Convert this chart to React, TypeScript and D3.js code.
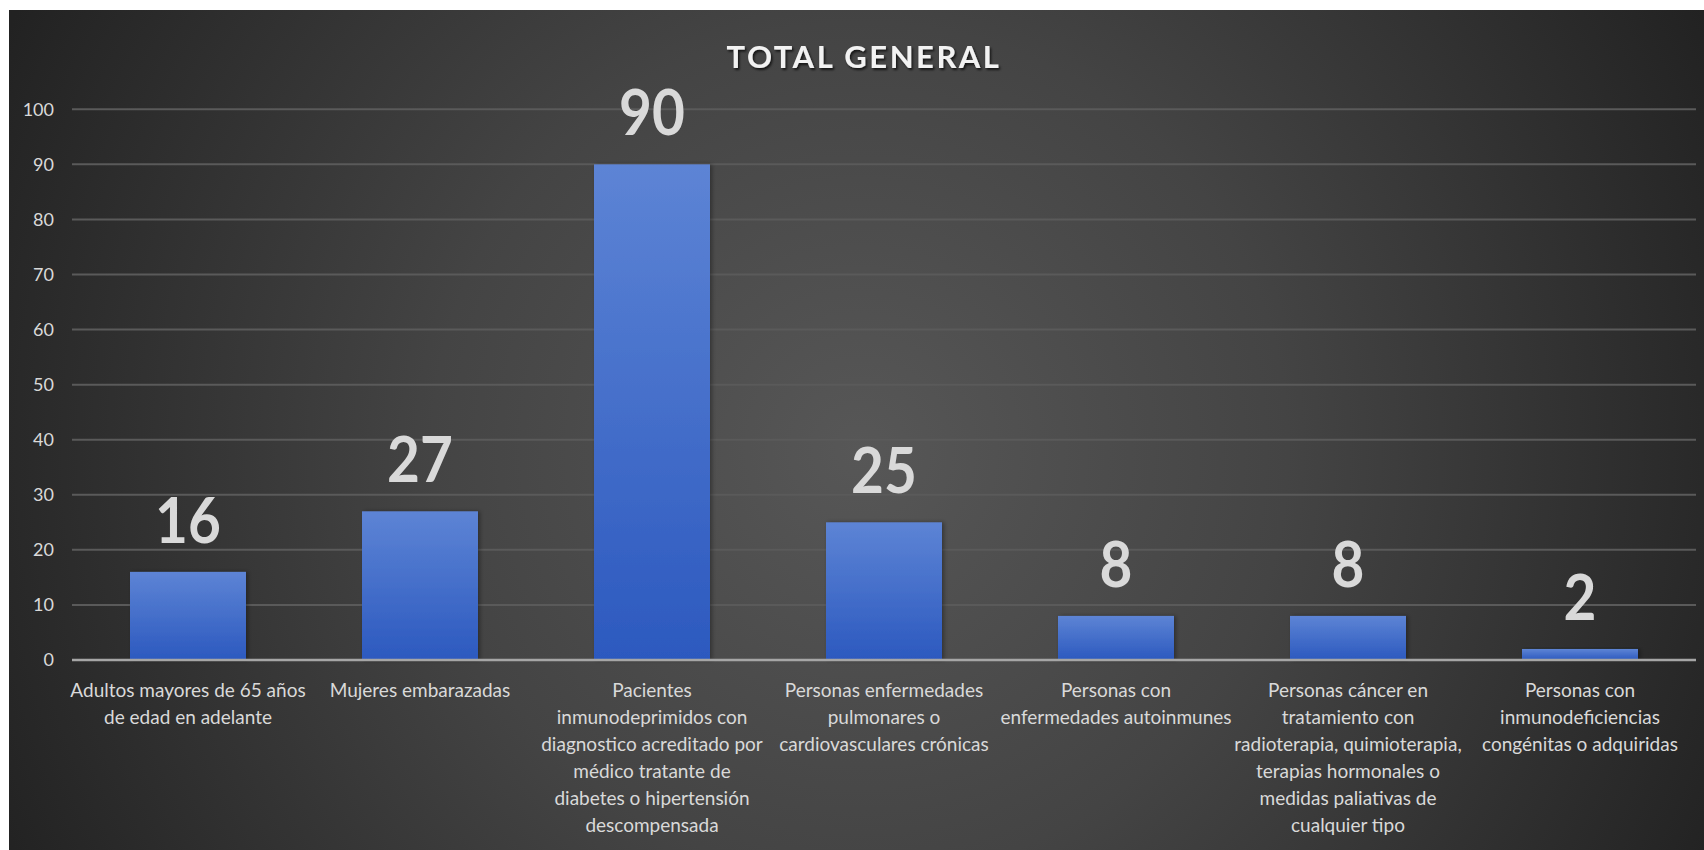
import React from "react";
import * as d3 from "d3";

const title = "TOTAL GENERAL";
const categories: string[][] = [
  ["Adultos mayores de 65 años", "de edad en adelante"],
  ["Mujeres embarazadas"],
  ["Pacientes", "inmunodeprimidos con", "diagnostico acreditado por", "médico tratante de", "diabetes o hipertensión", "descompensada"],
  ["Personas enfermedades", "pulmonares o", "cardiovasculares crónicas"],
  ["Personas con", "enfermedades autoinmunes"],
  ["Personas cáncer en", "tratamiento con", "radioterapia, quimioterapia,", "terapias hormonales o", "medidas paliativas de", "cualquier tipo"],
  ["Personas con", "inmunodeficiencias", "congénitas o adquiridas"],
];
const values: number[] = [16, 27, 90, 25, 8, 8, 2];
const yTicks: number[] = [0, 10, 20, 30, 40, 50, 60, 70, 80, 90, 100];

const W = 1704;
const H = 850;
const FONT = "Lato, 'Open Sans', sans-serif";

export default function App() {
  const x = d3
    .scaleBand<number>()
    .domain(values.map((_, i) => i))
    .range([72, 1696])
    .paddingInner(0.5)
    .paddingOuter(0.25);
  const y = d3.scaleLinear().domain([0, 100]).range([660, 109.3]);

  return (
    <svg
      width={W}
      height={H}
      style={{ position: "absolute", left: 0, top: 0, display: "block" }}
      fontFamily={FONT}
    >
      <defs>
        <radialGradient id="bg" gradientUnits="userSpaceOnUse" cx={860} cy={450} r={950}>
          <stop offset="0" stopColor="#575757" />
          <stop offset="0.45" stopColor="#444444" />
          <stop offset="1" stopColor="#222222" />
        </radialGradient>
        <linearGradient id="bar" x1="0" y1="0" x2="0" y2="1">
          <stop offset="0" stopColor="#5d84d5" />
          <stop offset="1" stopColor="#2c59bf" />
        </linearGradient>
        <filter id="tshadow" x="-10%" y="-30%" width="120%" height="160%">
          <feDropShadow dx="1.5" dy="2" stdDeviation="1.2" floodColor="#000" floodOpacity="0.7" />
        </filter>
        <filter id="bshadow" x="-10%" y="-10%" width="130%" height="120%">
          <feDropShadow dx="2" dy="0" stdDeviation="2" floodColor="#000" floodOpacity="0.35" />
        </filter>
      </defs>
      <rect x={0} y={0} width={W} height={H} fill="#ffffff" />
      <rect x={9} y={10} width={W - 9} height={H - 10} fill="url(#bg)" />

      {/* title */}
      <text
        x={864}
        y={68}
        textAnchor="middle"
        fontSize={31}
        fontWeight="bold"
        fill="#f2f2f2"
        letterSpacing={2.5}
        filter="url(#tshadow)"
      >
        {title}
      </text>

      {/* gridlines */}
      {yTicks
        .filter((t) => t !== 0)
        .map((t) => (
          <line key={t} x1={72} x2={1696} y1={y(t)} y2={y(t)} stroke="#5a5a5a" strokeWidth={2} />
        ))}
      {/* y tick labels */}
      {yTicks.map((t) => (
        <text key={t} x={54} y={y(t)} dy="0.36em" textAnchor="end" fontSize={18} fill="#d9d9d9">
          {t}
        </text>
      ))}

      {/* bars */}
      {values.map((v, i) => (
        <rect
          key={i}
          x={x(i)}
          y={y(v)}
          width={x.bandwidth()}
          height={y(0) - y(v)}
          fill="url(#bar)"
          filter="url(#bshadow)"
        />
      ))}

      {/* axis line */}
      <line x1={72} x2={1696} y1={y(0)} y2={y(0)} stroke="#a6a6a6" strokeWidth={2.5} />

      {/* data labels */}
      {values.map((v, i) => {
        const cx = (x(i) as number) + x.bandwidth() / 2;
        const by = y(v) - 29;
        return (
          <text
            key={i}
            transform={`translate(${cx},${by}) scale(0.9,1)`}
            textAnchor="middle"
            fontSize={63}
            fontWeight="bold"
            fill="#d9d9d9"
          >
            {v}
          </text>
        );
      })}

      {/* category labels */}
      {categories.map((lines, i) => (
        <text
          key={i}
          x={(x(i) as number) + x.bandwidth() / 2}
          y={697}
          textAnchor="middle"
          fontSize={19}
          fill="#d9d9d9"
        >
          {lines.map((l, j) => (
            <tspan key={j} x={(x(i) as number) + x.bandwidth() / 2} y={697 + j * 27}>
              {l}
            </tspan>
          ))}
        </text>
      ))}
    </svg>
  );
}
